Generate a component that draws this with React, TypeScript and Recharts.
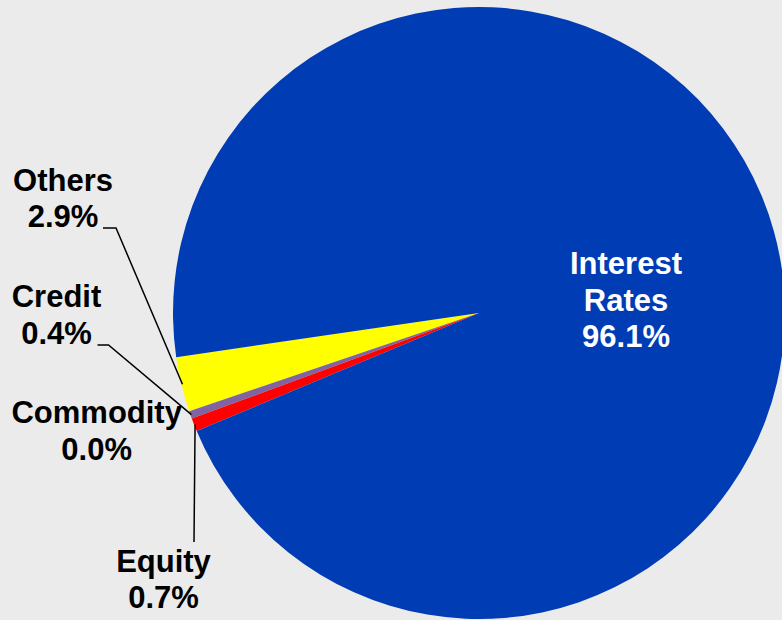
import React from 'react';
import { PieChart, Pie, Cell } from 'recharts';

const CATEGORIES = ['Others', 'Credit', 'Commodity', 'Equity', 'Interest Rates'];
const SHARES = [2.9, 0.4, 0.0, 0.7, 96.1];
const SLICE_COLORS = ['#ffff00', '#8064a2', '#00b050', '#ff0000', '#003cb4'];

// hand-placed label boxes (centre x, first baseline) and leader-line elbows
const LABEL_LAYOUT: Record<string, { x: number; y: number; color: string; elbow?: [number, number]; end?: number }> = {
  Others: { x: 63, y: 190.7, color: '#000', elbow: [116, 228], end: 103 },
  Credit: { x: 56.5, y: 307.3, color: '#000', elbow: [108.5, 345], end: 97.5 },
  Commodity: { x: 96.7, y: 423.3, color: '#000' },
  Equity: { x: 163.5, y: 571.7, color: '#000', elbow: [194, 542], end: 194 },
  'Interest Rates': { x: 626, y: 274.3, color: '#fff' },
};

const LINE_STEP = 36.5;
const RADIAN = Math.PI / 180;

const data = CATEGORIES.map((name, i) => ({ name, value: SHARES[i] }));

const renderLabel = (props: any) => {
  const { cx, cy, midAngle, outerRadius, name, value } = props;
  const layout = LABEL_LAYOUT[name];
  if (!layout) return null;
  const lines = [...name.split(' '), `${Number(value).toFixed(1)}%`];
  let line = null;
  if (layout.elbow) {
    const r = outerRadius - 1;
    const sx = cx + r * Math.cos(-midAngle * RADIAN);
    const sy = cy + r * Math.sin(-midAngle * RADIAN);
    const [ex, ey] = layout.elbow;
    line = (
      <polyline
        points={`${sx},${sy} ${ex},${ey} ${layout.end},${ey}`}
        fill="none"
        stroke="#000"
        strokeWidth={1.5}
      />
    );
  }
  return (
    <g key={`label-${name}`}>
      {line}
      <text
        x={layout.x}
        y={layout.y}
        textAnchor="middle"
        fill={layout.color}
        fontFamily="'Liberation Sans', Arial, sans-serif"
        fontWeight="bold"
        fontSize={31}
      >
        {lines.map((t, i) => (
          <tspan key={i} x={layout.x} y={layout.y + i * LINE_STEP}>
            {t}
          </tspan>
        ))}
      </text>
    </g>
  );
};

export default function App() {
  return (
    <div style={{ width: 782, height: 620, background: '#ebebeb' }}>
      <style>{`body{margin:0}`}</style>
      <PieChart width={782} height={620} margin={{ top: 0, right: 0, bottom: 0, left: 0 }}>
        <Pie
          data={data}
          dataKey="value"
          nameKey="name"
          cx={479}
          cy={313}
          outerRadius={306}
          startAngle={188.3}
          endAngle={548.3}
          stroke="none"
          label={renderLabel}
          labelLine={false}
          isAnimationActive={false}
        >
          {data.map((entry, index) => (
            <Cell key={`cell-${index}`} fill={SLICE_COLORS[index]} />
          ))}
        </Pie>
      </PieChart>
    </div>
  );
}
